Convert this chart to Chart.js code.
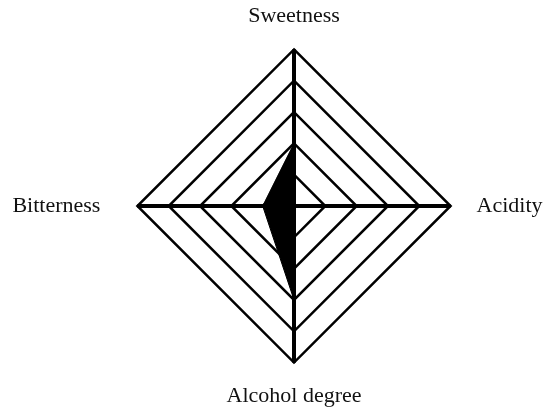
<!DOCTYPE html>
<html>
<head>
<meta charset="utf-8">
<title>Taste profile</title>
<script src="https://cdn.jsdelivr.net/npm/chart.js@4/dist/chart.umd.min.js"></script>
<style>
  html, body { margin: 0; padding: 0; background: #fff; overflow: hidden; width: 544px; height: 409px; }
  #wrap { position: absolute; left: -36px; top: 3px; width: 660px; height: 406px; }
</style>
</head>
<body>
<div id="wrap"><canvas id="radar" width="660" height="406"></canvas></div>
<script>
// Taste attributes, clockwise from the top
const categories = ['Sweetness', 'Acidity', 'Alcohol degree', 'Bitterness'];
// Score of the sample on each attribute (0–5)
const scores = [2, 0, 3, 1];
// Rings of the scale
const scaleMin = 0;
const scaleMax = 5;
const scaleStep = 1;

new Chart(document.getElementById('radar'), {
  type: 'radar',
  data: {
    labels: categories,
    datasets: [{
      data: scores,
      fill: true,
      backgroundColor: '#000',
      borderColor: '#000',
      borderWidth: 1,
      pointRadius: 0,
      tension: 0
    }]
  },
  options: {
    responsive: false,
    animation: false,
    devicePixelRatio: 1,
    layout: { padding: 0 },
    plugins: { legend: { display: false }, tooltip: { enabled: false } },
    scales: {
      r: {
        min: scaleMin,
        max: scaleMax,
        ticks: { display: false, stepSize: scaleStep },
        grid: { color: '#000', lineWidth: 2.5 },
        angleLines: { color: '#000', lineWidth: 4 },
        pointLabels: {
          color: '#111',
          font: { family: '"Liberation Serif", "Times New Roman", serif', size: 22 },
          padding: (ctx) => [20, 26, 20, 37][ctx.index]
        }
      }
    }
  }
});
</script>
</body>
</html>
